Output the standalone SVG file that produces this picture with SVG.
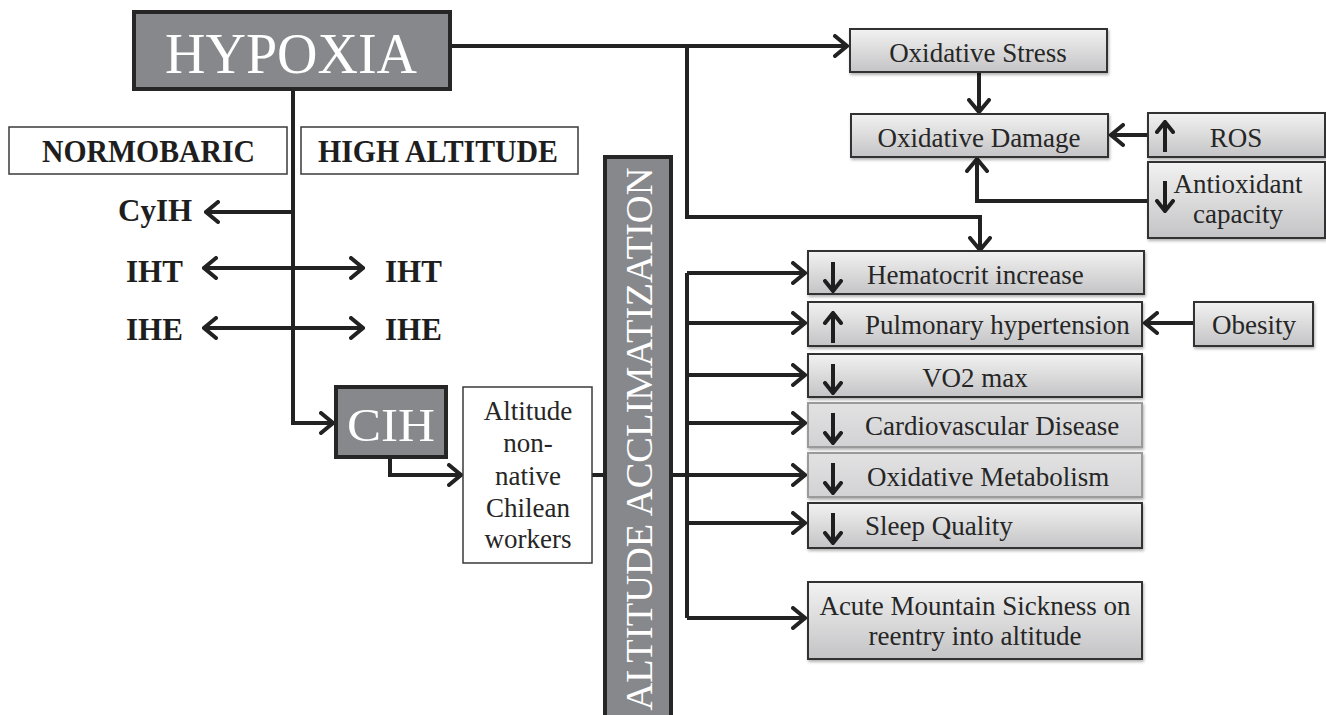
<svg xmlns="http://www.w3.org/2000/svg" width="1326" height="715" viewBox="0 0 1326 715">
<style>
.dark{fill:#87888c;stroke:#262626;stroke-width:4}
.plain{fill:#ffffff;stroke:#3a3a3a;stroke-width:1.5}
.grad{fill:url(#g);stroke:#333;stroke-width:2;filter:url(#sh)}
.light{fill:url(#g2);stroke:#9a9a9a;stroke-width:2;filter:url(#sh)}
text{font-family:'Liberation Serif','Tinos','Times New Roman','DejaVu Serif','Noto Serif',serif}
.t{fill:#262626;font-size:27px}
.b{fill:#1e1e1e;font-weight:bold;font-size:31px}
.w{fill:#ffffff}
.c{fill:none;stroke:#222;stroke-width:4}
.ca{fill:none;stroke:#222;stroke-width:4;marker-end:url(#ah)}
.ia{fill:none;stroke:#1e1e1e;stroke-width:4}
</style>
<defs>
<linearGradient id="g" x1="0" y1="0" x2="0" y2="1">
<stop offset="0" stop-color="#f2f2f2"/><stop offset="1" stop-color="#c4c4c6"/>
</linearGradient>
<linearGradient id="g2" x1="0" y1="0" x2="0" y2="1">
<stop offset="0" stop-color="#e2e2e3"/><stop offset="1" stop-color="#d2d2d4"/>
</linearGradient>
<filter id="sh" x="-5%" y="-10%" width="110%" height="130%">
<feDropShadow dx="1" dy="2" stdDeviation="1.5" flood-color="#000" flood-opacity="0.3"/>
</filter>
<marker id="ah" markerUnits="userSpaceOnUse" viewBox="0 0 16 24" refX="14" refY="12" markerWidth="16" markerHeight="24" orient="auto-start-reverse">
<path d="M2,2 L14,12 L2,22" fill="none" stroke="#222" stroke-width="4" stroke-linecap="round" stroke-linejoin="miter"/>
</marker>
<marker id="ih" markerUnits="userSpaceOnUse" viewBox="0 0 14 20" refX="12" refY="10" markerWidth="14" markerHeight="20" orient="auto">
<path d="M2,2 L12,10 L2,18" fill="none" stroke="#1e1e1e" stroke-width="4" stroke-linecap="round"/>
</marker>
</defs>

<g id="connectors">
<path class="ca" d="M451,46 H847"/>
<path class="ca" d="M687,46 V217 H980 V250"/>
<path class="ca" d="M979,72 V112"/>
<path class="ca" d="M1148,135 H1111"/>
<path class="ca" d="M1148,201 H977 V159"/>
<path class="ca" d="M293,90 V423 H333"/>
<path class="ca" d="M293,212 H206"/>
<path class="ca" d="M204,268 H363" style="marker-start:url(#ah)"/>
<path class="ca" d="M204,328 H363" style="marker-start:url(#ah)"/>
<path class="ca" d="M390,458 V475 H461"/>
<path class="c" d="M592,475 H604"/>
<path class="c" d="M672,475 H687"/>
<path class="c" d="M687,273 V618"/>
<path class="ca" d="M687,273 H805"/>
<path class="ca" d="M687,323 H805"/>
<path class="ca" d="M687,375 H805"/>
<path class="ca" d="M687,423 H805"/>
<path class="ca" d="M687,475 H805"/>
<path class="ca" d="M687,523 H805"/>
<path class="ca" d="M687,618 H805"/>
<path class="ca" d="M1194,323 H1145"/>
</g>

<g id="hypoxia">
<rect class="dark" x="134" y="12" width="316" height="77"/>
<text class="w" x="291" y="73" text-anchor="middle" font-size="56" textLength="252" lengthAdjust="spacingAndGlyphs">HYPOXIA</text>
</g>
<g id="normobaric">
<rect class="plain" x="9" y="127" width="278" height="47"/>
<text class="b" x="148.5" y="162" text-anchor="middle" textLength="213" lengthAdjust="spacingAndGlyphs">NORMOBARIC</text>
</g>
<g id="highaltitude">
<rect class="plain" x="301" y="127" width="277" height="47"/>
<text class="b" x="438" y="162" text-anchor="middle" textLength="240" lengthAdjust="spacingAndGlyphs">HIGH ALTITUDE</text>
</g>
<g id="cyih"><text class="b" x="118" y="221">CyIH</text></g>
<g id="iht-n"><text class="b" x="126" y="282">IHT</text></g>
<g id="iht-h"><text class="b" x="385" y="282">IHT</text></g>
<g id="ihe-n"><text class="b" x="126" y="340">IHE</text></g>
<g id="ihe-h"><text class="b" x="385" y="340">IHE</text></g>
<g id="cih">
<rect class="dark" x="336" y="387" width="110" height="70"/>
<text class="w" x="391" y="441" text-anchor="middle" font-size="47" textLength="88" lengthAdjust="spacingAndGlyphs">CIH</text>
</g>
<g id="workers">
<rect class="plain" x="463" y="387" width="129" height="176" stroke-width="2"/>
<text class="t" text-anchor="middle" font-size="28"><tspan x="528" y="420">Altitude</tspan><tspan x="528" y="452">non-</tspan><tspan x="528" y="485">native</tspan><tspan x="528" y="517">Chilean</tspan><tspan x="528" y="548">workers</tspan></text>
</g>
<g id="acclimatization">
<rect class="dark" x="605" y="157" width="66" height="570"/>
<text class="w" transform="translate(652,439) rotate(-90)" text-anchor="middle" font-size="38.5">ALTITUDE ACCLIMATIZATION</text>
</g>
<g id="oxstress">
<rect class="grad" x="850" y="29" width="257" height="43"/>
<text class="t" x="978" y="62" text-anchor="middle">Oxidative Stress</text>
</g>
<g id="oxdamage">
<rect class="grad" x="851" y="114" width="257" height="43"/>
<text class="t" x="979" y="147" text-anchor="middle">Oxidative Damage</text>
</g>
<g id="ros">
<rect class="grad" x="1148" y="113" width="177" height="44"/>
<path class="ia" d="M1165,152 V122" marker-end="url(#ih)"/>
<text class="t" x="1236" y="147" text-anchor="middle">ROS</text>
</g>
<g id="antioxidant">
<rect class="grad" x="1148" y="162" width="177" height="76"/>
<path class="ia" d="M1165,181 V211" marker-end="url(#ih)"/>
<text class="t" x="1238" y="193" text-anchor="middle">Antioxidant</text>
<text class="t" x="1238" y="223" text-anchor="middle">capacity</text>
</g>
<g id="hematocrit">
<rect class="grad" x="808" y="251" width="336" height="43"/>
<path class="ia" d="M833,262 V291" marker-end="url(#ih)"/>
<text class="t" x="867" y="284">Hematocrit increase</text>
</g>
<g id="pulmonary">
<rect class="grad" x="808" y="302" width="334" height="44"/>
<path class="ia" d="M833,343 V313" marker-end="url(#ih)"/>
<text class="t" x="865" y="334">Pulmonary hypertension</text>
</g>
<g id="obesity">
<rect class="grad" x="1194" y="302" width="119" height="44"/>
<text class="t" x="1254" y="334" text-anchor="middle">Obesity</text>
</g>
<g id="vo2">
<rect class="grad" x="808" y="354" width="334" height="43"/>
<path class="ia" d="M833,364 V393" marker-end="url(#ih)"/>
<text class="t" x="975" y="387" text-anchor="middle">VO2 max</text>
</g>
<g id="cardio">
<rect class="light" x="808" y="403" width="334" height="44"/>
<path class="ia" d="M833,413 V443" marker-end="url(#ih)"/>
<text class="t" x="865" y="435">Cardiovascular Disease</text>
</g>
<g id="oxmetab">
<rect class="light" x="808" y="453" width="334" height="44"/>
<path class="ia" d="M833,463 V493" marker-end="url(#ih)"/>
<text class="t" x="867" y="486">Oxidative Metabolism</text>
</g>
<g id="sleep">
<rect class="grad" x="808" y="503" width="334" height="45"/>
<path class="ia" d="M833,513 V543" marker-end="url(#ih)"/>
<text class="t" x="865" y="535">Sleep Quality</text>
</g>
<g id="ams">
<rect class="grad" x="808" y="582" width="334" height="77"/>
<text class="t" x="975" y="615" text-anchor="middle">Acute Mountain Sickness on</text>
<text class="t" x="975" y="645" text-anchor="middle">reentry into altitude</text>
</g>
</svg>
